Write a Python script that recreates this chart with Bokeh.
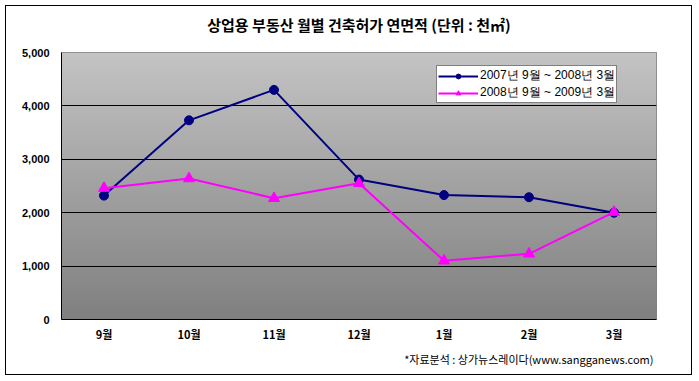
import numpy as np
from bokeh.plotting import figure
from bokeh.models import (Title, Legend, LegendItem, NumeralTickFormatter,
                          FixedTicker, ColumnDataSource)
from bokeh.embed import file_html
from bokeh.resources import INLINE

# ---- data ----
months = ["9월", "10월", "11월", "12월", "1월", "2월", "3월"]
series1_name = "2007년 9월 ~ 2008년 3월"
series1 = [2320, 3730, 4300, 2620, 2330, 2290, 2000]
series2_name = "2008년 9월 ~ 2009년 3월"
series2 = [2460, 2640, 2270, 2550, 1100, 1230, 2010]
y_ticks = [0, 1000, 2000, 3000, 4000, 5000]
title_main = "상업용 부동산 월별 건축허가 연면적"
title_unit = "(단위 : 천㎡)"
source_note = "*자료분석 : 상가뉴스레이다(www.sangganews.com)"

KR = "Noto Sans CJK KR"
W, H = 687, 370

p = figure(width=W, height=H, x_range=months, y_range=(0, 5000),
           output_backend="svg", toolbar_location=None,
           min_border_left=55, min_border_right=37, min_border_top=43, min_border_bottom=57)
p.styles = {"margin-left": "5px", "margin-top": "5px", "border": "1px solid black"}

# gradient plot background
n = 256
top = np.array([0xc4, 0xc4, 0xc4], dtype=float)
bot = np.array([0x80, 0x80, 0x80], dtype=float)
t = np.linspace(0, 1, n)[:, None]  # row 0 = bottom
cols = (bot + (top - bot) * t).astype(np.uint32)
img = np.zeros((n, 1), dtype=np.uint32)
view = img.view(dtype=np.uint8).reshape((n, 1, 4))
view[:, 0, 0] = cols[:, 0]
view[:, 0, 1] = cols[:, 1]
view[:, 0, 2] = cols[:, 2]
view[:, 0, 3] = 255
p.image_rgba(image=[img], x=0, y=0, dw=len(months), dh=5000, level="image")

p.background_fill_color = "#a0a0a0"
p.border_fill_color = "white"
p.outline_line_color = "#808080"

# grid
p.xgrid.grid_line_color = None
p.ygrid.grid_line_color = "black"
p.ygrid.grid_line_width = 1
p.ygrid.level = "underlay"
p.ygrid.ticker = FixedTicker(ticks=[1000, 2000, 3000, 4000])

# axes
p.yaxis.ticker = FixedTicker(ticks=y_ticks)
p.yaxis.formatter = NumeralTickFormatter(format="0,0")
p.yaxis.axis_line_color = "black"
p.yaxis.major_tick_line_color = None
p.yaxis.minor_tick_line_color = None
p.yaxis.major_label_standoff = 6
p.yaxis.major_label_text_font = "Liberation Sans"
p.yaxis.major_label_text_font_size = "11px"
p.yaxis.major_label_text_font_style = "bold"
p.yaxis.major_label_text_color = "black"

p.xaxis.axis_line_color = "black"
p.xaxis.major_tick_line_color = None
p.xaxis.major_label_standoff = 0
p.xaxis.major_label_text_font = KR
p.xaxis.major_label_text_font_size = "11px"
p.xaxis.major_label_text_font_style = "bold"
p.xaxis.major_label_text_color = "black"

src = ColumnDataSource(dict(m=months, a=series1, b=series2))
l1 = p.line("m", "a", source=src, line_color="#000080", line_width=2)
m1 = p.scatter("m", "a", source=src, marker="circle", size=9, fill_color="#000080", line_color="#000080")
l2 = p.line("m", "b", source=src, line_color="#ff00ff", line_width=2)
m2 = p.scatter("m", "b", source=src, marker="triangle", size=11, fill_color="#ff00ff", line_color="#ff00ff")

legend = Legend(items=[LegendItem(label=series1_name, renderers=[l1, m1]),
                       LegendItem(label=series2_name, renderers=[l2, m2])],
                location=(375, 216))
legend.border_line_color = "black"
legend.border_line_width = 1
legend.background_fill_color = "white"
legend.background_fill_alpha = 1
legend.label_text_font = "Liberation Sans"
legend.label_text_font_size = "12px"
legend.label_text_color = "black"
legend.label_text_line_height = 1.0
legend.glyph_width = 40
legend.glyph_height = 12
legend.label_height = 12
legend.label_standoff = 2
legend.spacing = 0
legend.padding = 1
legend.margin = 0
p.add_layout(legend, "center")

# title: a blank second line lifts the text up away from the frame
p.add_layout(Title(text=title_main + " " + title_unit + "\n ", align="center",
                   text_font=KR, text_font_size="15px", text_font_style="bold",
                   text_line_height=0.6, text_color="black"), "above")
p.add_layout(Title(text=source_note, align="right", offset=3,
                   text_font=KR, text_font_size="11px", text_font_style="normal",
                   text_color="black", standoff=9), "below")

open("out.html", "w").write(file_html(p, INLINE))
